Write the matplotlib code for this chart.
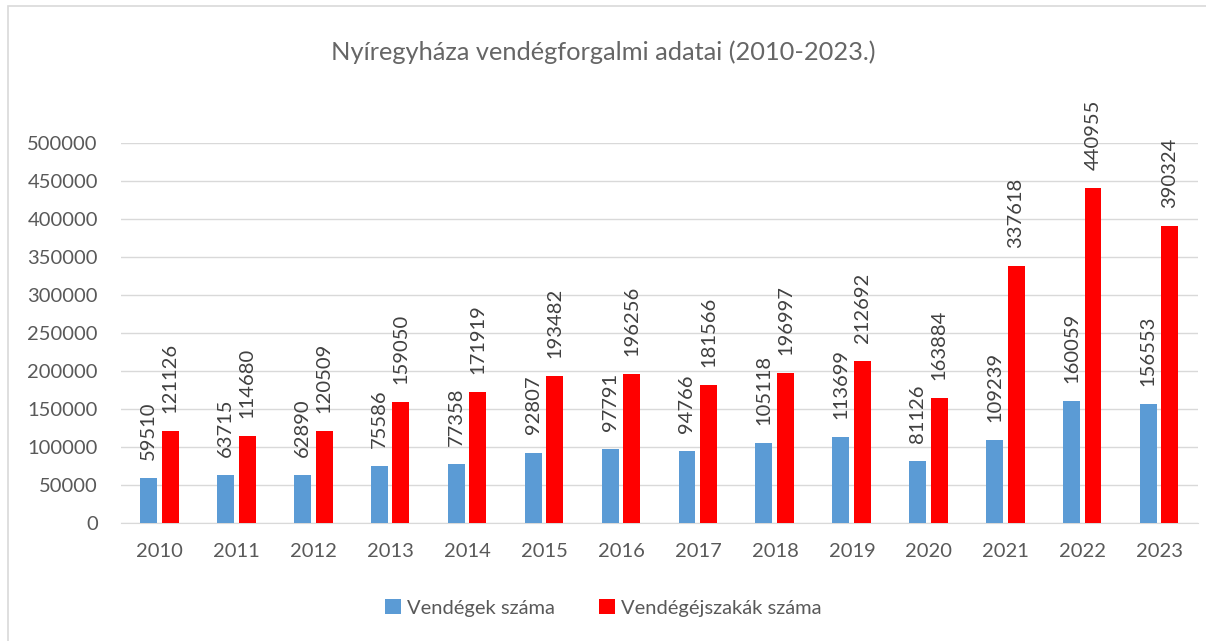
import matplotlib.pyplot as plt
import matplotlib.patches as patches
import numpy as np

# Vendégforgalmi adatok, Nyíregyháza
evek = ["2010", "2011", "2012", "2013", "2014", "2015", "2016",
        "2017", "2018", "2019", "2020", "2021", "2022", "2023"]
vendegek = [59510, 63715, 62890, 75586, 77358, 92807, 97791,
            94766, 105118, 113699, 81126, 109239, 160059, 156553]
ejszakak = [121126, 114680, 120509, 159050, 171919, 193482, 196256,
            181566, 196997, 212692, 163884, 337618, 440955, 390324]

plt.rcParams["font.family"] = ["Lato", "DejaVu Sans"]
szoveg_szin = "#595959"

fig = plt.figure(figsize=(12.06, 6.41), dpi=100)
ax = fig.add_axes([0.1007, 0.184, 0.8926, 0.593])

x = np.arange(len(evek))
szel = 0.22
b1 = ax.bar(x - 0.145, vendegek, szel, color="#5b9bd5", label="Vendégek száma", zorder=3)
b2 = ax.bar(x + 0.135, ejszakak, szel, color="#ff0000", label="Vendégéjszakák száma", zorder=3)

for rect, ertek in zip(list(b1) + list(b2), vendegek + ejszakak):
    ax.annotate(str(ertek),
                xy=(rect.get_x() + rect.get_width() / 2, rect.get_height()),
                xytext=(0, 13), textcoords="offset points",
                rotation=90, ha="center", va="bottom",
                fontsize=14.5, color="#404040")

ax.set_xlim(-0.5, len(evek) - 0.5)
ax.set_ylim(0, 500000)
ax.set_yticks(np.arange(0, 500001, 50000))
ax.set_xticks(x)
ax.set_xticklabels(evek)
ax.tick_params(axis="both", length=0, labelsize=14.5, labelcolor=szoveg_szin)
ax.tick_params(axis="x", pad=14)
ax.tick_params(axis="y", pad=17)
ax.grid(axis="y", color="#d9d9d9", linewidth=1, zorder=0)

for oldal in ["top", "right", "left"]:
    ax.spines[oldal].set_visible(False)
ax.spines["bottom"].set_color("#d9d9d9")

fig.text(0.5, 0.918, "Nyíregyháza vendégforgalmi adatai (2010-2023.)",
         ha="center", va="center", fontsize=18.3, color="#666666")

fig.legend(loc="center", bbox_to_anchor=(0.5, 0.052), ncol=2, frameon=False,
           fontsize=14.5, labelcolor=szoveg_szin, handlelength=0.8, handleheight=0.8,
           handletextpad=0.3, columnspacing=2.2)

fig.patches.append(patches.Rectangle((0.007, -0.01), 1.0, 1.0, transform=fig.transFigure,
                                     fill=False, edgecolor="#d9d9d9", linewidth=1.2))

fig.savefig("out.png", dpi=100)
